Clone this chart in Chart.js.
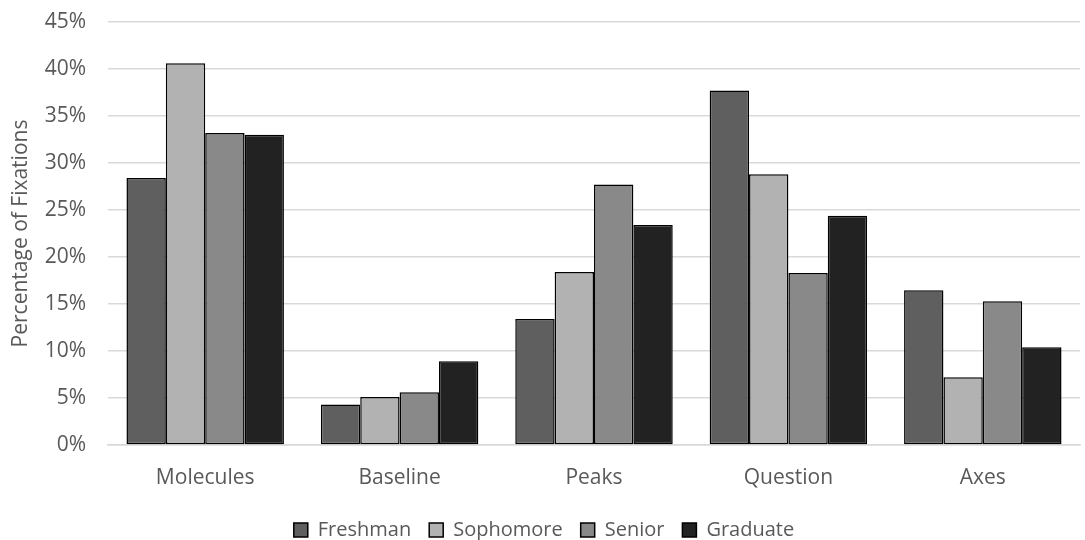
<!DOCTYPE html>
<html>
<head>
<meta charset="utf-8">
<script src="https://cdn.jsdelivr.net/npm/chart.js@4/dist/chart.umd.min.js"></script>
<style>
html,body{margin:0;padding:0;background:#fff;}
#wrap{width:1085px;height:540px;position:relative;}
</style>
</head>
<body>
<div id="wrap"><canvas id="c" width="1085" height="540"></canvas></div>
<script>
const categories = ["Molecules", "Baseline", "Peaks", "Question", "Axes"];
const freshman   = [28.4, 4.3, 13.4, 37.7, 16.45];
const sophomore  = [40.6, 5.1, 18.4, 28.8, 7.2];
const senior     = [33.2, 5.6, 27.7, 18.3, 15.3];
const graduate   = [33.0, 8.9, 23.4, 24.4, 10.4];
const seriesNames = ["Freshman", "Sophomore", "Senior", "Graduate"];
const seriesColors = ["#5f5f5f", "#b2b2b2", "#898989", "#222222"];
const yTicks = [0, 5, 10, 15, 20, 25, 30, 35, 40, 45];

const FONT = "'Open Sans', sans-serif";
const FS = 21;
const TXT = "#595959";
const values = [freshman, sophomore, senior, graduate];

new Chart(document.getElementById('c'), {
  type: 'bar',
  data: {
    labels: categories,
    datasets: seriesNames.map((n, i) => ({
      label: n,
      data: values[i],
      backgroundColor: seriesColors[i],
      borderColor: '#000000',
      borderWidth: 1.5,
      borderSkipped: false,
      categoryPercentage: 0.81,
      barPercentage: 1.0
    }))
  },
  options: {
    responsive: false,
    animation: false,
    devicePixelRatio: 1,
    layout: { padding: { top: 22, right: 5, left: 8, bottom: -10 } },
    plugins: {
      legend: {
        position: 'bottom',
        labels: {
          font: { family: FONT, size: 20 },
          color: TXT,
          boxWidth: 14,
          boxHeight: 14,
          padding: 18,
          useBorderRadius: false
        }
      },
      tooltip: { enabled: false }
    },
    scales: {
      x: {
        grid: { display: false, drawTicks: false },
        border: { display: true, color: '#d9d9d9', width: 1.5 },
        ticks: { font: { family: FONT, size: FS }, color: TXT, padding: 20 },
        afterFit: s => { s.height = 57; }
      },
      y: {
        min: 0, max: 45,
        afterBuildTicks: s => { s.ticks = yTicks.map(v => ({ value: v })); },
        grid: { color: '#d9d9d9', lineWidth: 1.5, drawTicks: false },
        border: { display: false },
        ticks: {
          font: { family: FONT, size: FS },
          color: TXT,
          padding: 22,
          callback: v => v + '%'
        },
        title: {
          display: true,
          text: 'Percentage of Fixations',
          font: { family: FONT, size: FS },
          color: TXT,
          padding: 0
        },
        afterFit: s => { s.width = 100; s.paddingTop = 0; s.paddingBottom = 0; }
      }
    }
  }
});
</script>
</body>
</html>
